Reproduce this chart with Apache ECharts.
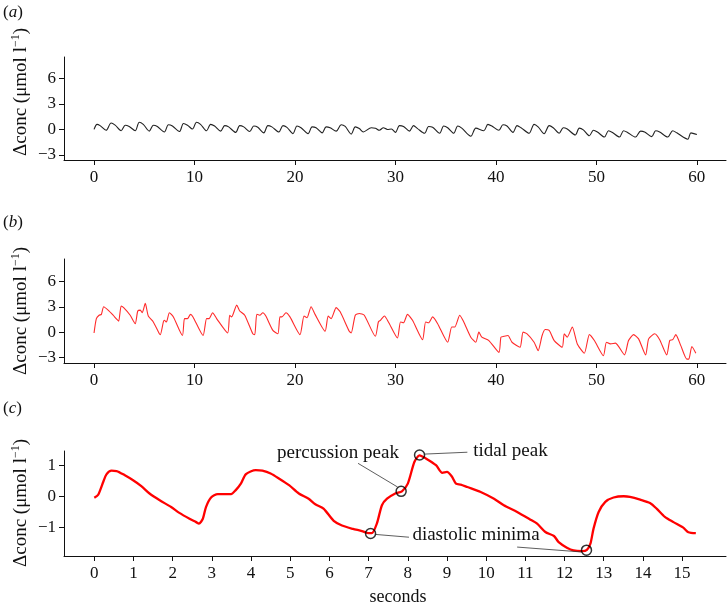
<!DOCTYPE html>
<html>
<head>
<meta charset="utf-8">
<script src="https://cdn.jsdelivr.net/npm/echarts@6/dist/echarts.min.js"></script>
<style>html,body{margin:0;padding:0;background:#fff}#c{width:728px;height:607px}</style>
</head>
<body>
<div id="c"></div>
<script>
// ---- data (time in s, Δconc in µmol/l) ----
const traceA = [
[0.0,0.0],[0.3,0.6],[0.6,0.45],[1.2,-0.1],[1.7,0.75],[2.1,0.5],[2.7,-0.15],[3.1,0.5],[3.5,0.35],[4.1,-0.15],
[4.5,0.85],[4.9,0.6],[5.5,-0.2],[5.9,0.5],[6.3,0.35],[7.0,-0.3],[7.4,0.55],[7.8,0.4],[8.5,-0.25],[8.9,0.7],
[9.3,0.5],[9.8,0.05],[10.2,0.85],[10.6,0.6],[11.2,-0.15],[11.6,0.6],[12.0,0.4],[12.6,-0.2],[13.0,0.45],[13.4,0.3],
[14.1,-0.35],[14.5,0.45],[14.9,0.3],[15.5,-0.25],[15.9,0.4],[16.3,0.25],[16.9,-0.4],[17.3,0.45],[17.7,0.3],[18.4,-0.3],
[18.8,0.45],[19.2,0.25],[19.8,-0.5],[20.2,0.4],[20.6,0.2],[21.3,-0.5],[21.7,0.3],[22.1,0.2],[22.7,-0.4],[23.1,0.3],
[23.5,0.2],[24.1,-0.2],[24.6,0.55],[25.0,0.35],[25.6,-0.55],[26.0,0.3],[26.4,0.1],[26.8,-0.3],[27.6,0.2],[28.0,0.15],
[28.4,-0.1],[28.8,0.2],[29.2,0.0],[29.6,0.05],[30.0,-0.35],[30.4,0.45],[30.8,0.35],[31.4,-0.2],[31.8,0.45],[32.2,0.1],
[32.9,-0.45],[33.3,0.35],[33.7,0.25],[34.4,-0.45],[34.8,0.4],[35.2,0.2],[35.8,-0.45],[36.2,0.4],[36.6,0.15],[37.5,-0.8],
[38.0,0.15],[38.8,-0.15],[39.2,0.6],[39.6,0.4],[40.3,-0.1],[40.7,0.55],[41.1,0.4],[41.7,-0.35],[42.1,0.45],[42.5,0.2],
[43.3,-0.45],[43.8,0.6],[44.2,0.3],[44.8,-0.5],[45.3,0.45],[45.7,0.2],[46.3,-0.45],[46.7,0.2],[47.1,0.05],[47.9,-0.65],
[48.3,0.15],[48.7,-0.05],[49.3,-0.75],[49.7,-0.1],[50.1,-0.3],[50.8,-0.9],[51.2,-0.15],[51.6,-0.35],[52.3,-0.9],[52.7,-0.15],
[53.1,-0.35],[53.9,-0.9],[54.4,-0.2],[54.8,-0.3],[55.5,-0.85],[55.9,-0.15],[56.3,-0.3],[57.1,-0.9],[57.6,-0.15],[58.0,-0.4],
[59.1,-1.15],[59.4,-0.4],[60.0,-0.6]
];
const traceB = [
[0,-0.1],[0.23,1.6],[0.5,2.0],[0.73,2.1],[0.96,3.0],[1.4,2.6],[1.9,2.0],[2.2,1.6],[2.45,1.3],[2.7,3.1],
[2.95,2.9],[3.6,2.0],[4.1,1.0],[4.35,2.5],[4.6,2.6],[4.8,2.3],[5.1,3.4],[5.4,1.9],[5.9,1.2],[6.5,-0.2],
[6.6,-0.3],[6.9,1.2],[7.0,1.4],[7.2,1.2],[7.5,2.3],[7.9,1.8],[8.8,-0.4],[9.0,1.6],[9.3,1.6],[9.6,2.1],
[9.85,1.8],[10.85,-0.4],[11.2,1.6],[11.45,1.6],[11.8,2.3],[12.2,1.6],[13.3,-0.1],[13.5,2.0],[13.7,1.8],[14.2,3.2],
[14.5,2.5],[15.0,2.0],[15.8,-0.2],[16.0,-0.3],[16.2,2.1],[16.5,2.0],[16.8,2.3],[17.1,1.9],[17.8,0.2],[18.3,-0.2],
[18.5,1.8],[18.7,1.8],[19.1,2.3],[19.5,1.8],[20.5,-0.3],[20.9,1.9],[21.2,1.7],[21.6,3.0],[22.0,2.1],[23.0,0.1],
[23.3,1.9],[23.6,1.6],[24.1,2.9],[24.5,2.4],[25.4,0.1],[25.6,-0.1],[26.0,2.0],[26.4,2.2],[26.9,2.0],[28.0,-0.5],
[28.3,1.2],[28.5,1.4],[28.9,1.9],[29.3,1.2],[30.2,-0.7],[30.5,1.2],[30.8,1.1],[31.2,2.1],[31.7,1.4],[32.7,-0.9],
[33.0,1.2],[33.3,1.1],[33.7,1.8],[34.2,1.0],[35.2,-1.2],[35.6,0.6],[35.9,0.6],[36.4,2.0],[36.8,1.2],[37.5,-0.6],
[38.0,-1.2],[38.3,0.0],[38.6,-0.6],[39.3,-1.0],[40.3,-2.4],[40.5,-0.6],[40.8,-0.5],[41.2,-0.4],[41.6,-1.2],[42.4,-1.8],
[42.7,0.0],[43.1,-0.2],[43.8,-1.2],[44.2,-2.2],[44.6,-0.4],[44.9,0.3],[45.3,0.2],[45.8,-1.0],[46.6,-1.8],[46.8,-0.2],
[47.1,-0.6],[47.6,0.6],[48.1,-1.4],[48.8,-2.5],[49.3,-0.3],[49.8,-1.0],[50.7,-2.8],[51.0,-1.2],[51.4,-1.4],[51.9,-1.3],
[52.8,-2.7],[53.2,-1.0],[53.7,-0.3],[54.2,-0.8],[54.9,-2.7],[55.2,-0.8],[55.8,-0.2],[56.3,-0.9],[57.0,-2.7],[57.3,-1.0],
[57.6,-0.9],[57.9,-0.3],[58.4,-1.6],[59.0,-3.2],[59.2,-3.2],[59.5,-1.7],[59.9,-2.5]
];
const traceC = [
[0,-0.05],[0.1,0.05],[0.23,0.47],[0.31,0.71],[0.44,0.83],[0.57,0.82],[0.78,0.68],[0.99,0.52],[1.2,0.33],[1.41,0.09],
[1.67,-0.13],[1.96,-0.35],[2.17,-0.54],[2.43,-0.73],[2.6,-0.84],[2.67,-0.89],[2.77,-0.73],[2.85,-0.35],[2.98,-0.04],[3.15,0.07],
[3.49,0.07],[3.61,0.2],[3.74,0.41],[3.87,0.72],[4.12,0.85],[4.29,0.83],[4.5,0.74],[4.71,0.58],[4.97,0.36],[5.22,0.09],
[5.47,-0.08],[5.64,-0.26],[5.85,-0.4],[6.11,-0.8],[6.32,-0.95],[6.6,-1.06],[6.83,-1.13],[7.0,-1.2],[7.08,-1.2],[7.21,-0.89],
[7.34,-0.29],[7.47,-0.08],[7.68,0.09],[7.85,0.16],[8.0,0.41],[8.17,1.12],[8.3,1.33],[8.46,1.23],[8.72,1.01],[8.88,0.76],
[9.0,0.79],[9.12,0.65],[9.23,0.41],[9.35,0.38],[9.52,0.3],[9.86,0.14],[10.2,-0.08],[10.45,-0.29],[10.79,-0.51],[11.13,-0.76],
[11.3,-0.89],[11.51,-1.16],[11.73,-1.29],[11.85,-1.49],[12.06,-1.67],[12.23,-1.76],[12.45,-1.78],[12.57,-1.74],[12.66,-1.54],[12.74,-1.05],
[12.87,-0.51],[13.04,-0.18],[13.25,-0.04],[13.51,0],[13.67,-0.02],[13.93,-0.11],[14.18,-0.22],[14.35,-0.4],[14.56,-0.67],[14.78,-0.84],
[15.03,-1.02],[15.16,-1.17],[15.35,-1.2]
];
const markedPoints = [[7.05,-1.21],[7.83,0.16],[8.3,1.34],[12.56,-1.75]];
const annotations = [
  {text:'percussion peak', x:6.22, y:1.40},
  {text:'tidal peak', x:10.62, y:1.46},
  {text:'diastolic minima', x:9.74, y:-1.27}
];
const leaders = [
  [[6.73,1.07],[7.74,0.30]],
  [[8.43,1.37],[9.52,1.43]],
  [[7.18,-1.24],[8.03,-1.33]],
  [[10.79,-1.65],[12.44,-1.81]]
];
const ticksAB_x = [0,10,20,30,40,50,60];
const ticksAB_y = [-3,0,3,6];
const ticksC_x = [0,1,2,3,4,5,6,7,8,9,10,11,12,13,14,15];
const ticksC_y = [-1,0,1];

const SERIF = "'Liberation Serif','DejaVu Serif',serif";
const minus = v => String(v).replace('-', '\u2212');

function xAxis(grid, min, max, ticks) {
  return {
    type:'value', gridIndex:grid, min:min, max:max,
    axisLine:{show:true, onZero:false, lineStyle:{color:'#111', width:1}},
    axisTick:{show:true, length:5, customValues:ticks, lineStyle:{color:'#111', width:1}},
    axisLabel:{show:true, customValues:ticks, fontFamily:SERIF, fontSize:17, color:'#111', margin:9, formatter:minus},
    splitLine:{show:false}
  };
}
function yAxis(grid, min, max, ticks) {
  return {
    type:'value', gridIndex:grid, min:min, max:max,
    axisLine:{show:true, onZero:false, lineStyle:{color:'#111', width:1}},
    axisTick:{show:true, length:5, customValues:ticks, lineStyle:{color:'#111', width:1}},
    axisLabel:{show:true, customValues:ticks, fontFamily:SERIF, fontSize:17, color:'#111', margin:8, formatter:minus},
    splitLine:{show:false}
  };
}

const chart = echarts.init(document.getElementById('c'), null, {renderer:'canvas'});

const series = [
  {type:'line', xAxisIndex:0, yAxisIndex:0, data:traceA, symbol:'none', smooth:0.3,
   lineStyle:{color:'#222', width:1.1}},
  {type:'line', xAxisIndex:1, yAxisIndex:1, data:traceB, symbol:'none', smooth:0.2,
   lineStyle:{color:'#ff2a2a', width:1.1}},
  {type:'line', xAxisIndex:2, yAxisIndex:2, data:traceC, symbol:'none', smooth:0.25,
   lineStyle:{color:'#ff0000', width:2.3}}
];
leaders.forEach(seg => series.push({
  type:'line', xAxisIndex:2, yAxisIndex:2, data:seg, symbol:'none', silent:true,
  lineStyle:{color:'#333', width:0.8}
}));
series.push({type:'scatter', xAxisIndex:2, yAxisIndex:2, data:markedPoints, symbol:'circle', symbolSize:10,
  itemStyle:{color:'rgba(0,0,0,0)', borderColor:'#000', borderWidth:1.5}, z:5});

const yName = '{m|\u0394conc (\u03bcmol l}{s|\u22121}{m|)}';
const yRich = {m:{fontFamily:SERIF, fontSize:19, color:'#111', lineHeight:22},
               s:{fontFamily:SERIF, fontSize:12, color:'#111', lineHeight:12, verticalAlign:'top'}};
function panelLabel(letter, y) {
  return {type:'text', left:3, top:y, style:{text:'(' + '{i|' + letter + '}' + ')', fontFamily:SERIF, fontSize:17, fill:'#111',
    rich:{i:{fontFamily:SERIF, fontStyle:'italic', fontSize:17, fill:'#111'}}}};
}
function yTitle(cy) {
  return {type:'text', x:21, y:cy, rotation:Math.PI/2,
    style:{text:yName, rich:yRich, align:'center', verticalAlign:'middle', fill:'#111'}};
}

chart.setOption({
  animation:false,
  backgroundColor:'#fff',
  grid:[
    {left:64, top:57, width:662, height:103},
    {left:64, top:259, width:662, height:104},
    {left:64, top:451, width:662, height:105}
  ],
  xAxis:[ xAxis(0,-2.99,62.9,ticksAB_x), xAxis(1,-2.99,62.9,ticksAB_x), xAxis(2,-0.773,16.12,ticksC_x) ],
  yAxis:[ yAxis(0,-3.6,8.53,ticksAB_y), yAxis(1,-3.66,8.66,ticksAB_y), yAxis(2,-1.94,1.47,ticksC_y) ],
  series:series,
  graphic:[
    panelLabel('a', 4), panelLabel('b', 214), panelLabel('c', 400),
    yTitle(92), yTitle(311), yTitle(503),
    {type:'text', x:398, y:597, style:{text:'seconds', fontFamily:SERIF, fontSize:18, fill:'#111', align:'center', verticalAlign:'middle'}}
  ]
});

const annGraphics = annotations.map(a => {
  const p = chart.convertToPixel({gridIndex:2}, [a.x, a.y]);
  return {type:'text', x:p[0], y:p[1], z:10,
    style:{text:a.text, fontFamily:SERIF, fontSize:19, fill:'#111', align:'center', verticalAlign:'middle'}};
});
chart.setOption({graphic: annGraphics.map((g,i)=>Object.assign({id:'ann'+i}, g))});
</script>
</body>
</html>
